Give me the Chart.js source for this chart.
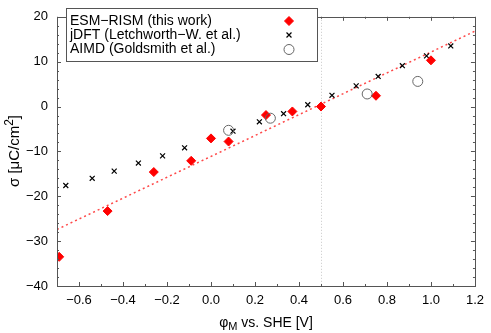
<!DOCTYPE html>
<html>
<head>
<meta charset="utf-8">
<script src="https://cdn.jsdelivr.net/npm/chart.js@4/dist/chart.umd.min.js"></script>
<style>
  html, body { margin: 0; padding: 0; background: #fff; }
</style>
</head>
<body>
<canvas id="sigmaChart" width="491" height="333"></canvas>
<script>
// ESM-RISM (this work)
const esmX = [-0.69, -0.47, -0.26, -0.09, 0.0, 0.08, 0.25, 0.37, 0.50, 0.75, 1.00];
const esmY = [-33.5, -23.3, -14.6, -12.1, -7.1, -7.8, -1.9, -1.1, 0.0, 2.4, 10.3];

// jDFT (Letchworth-W. et al.)
const jdftX = [-0.66, -0.54, -0.44, -0.33, -0.22, -0.12, 0.10, 0.22, 0.33, 0.44, 0.55, 0.66, 0.76, 0.87, 0.98, 1.09];
const jdftY = [-17.6, -16.0, -14.4, -12.6, -11.0, -9.2, -5.5, -3.4, -1.6, 0.4, 2.5, 4.6, 6.7, 9.1, 11.3, 13.5];

// AIMD (Goldsmith et al.)
const aimdX = [0.08, 0.27, 0.71, 0.94];
const aimdY = [-5.3, -2.6, 2.8, 5.6];

// linear fit through ESM-RISM points
const fitX = [-0.7, 1.2];
const fitY = [-27.4, 16.8];

const seriesLabels = ["ESM\u2212RISM (this work)", "jDFT (Letchworth\u2212W. et al.)", "AIMD (Goldsmith et al.)"];
const refLineX = 0.5;

const FONT = "'Liberation Sans', Arial, Helvetica, sans-serif";

function toPoints(xs, ys) {
    return xs.map((x, i) => ({ x: x, y: ys[i] }));
}

function fmtX(v) {
    const r = Math.round(v * 10);
    if (r % 2 !== 0) return "";
    return (r / 10).toFixed(1).replace("-", "\u2212");
}

function fmtY(v) {
    const r = Math.round(v);
    if (r % 10 !== 0) return "";
    return String(r).replace("-", "\u2212");
}

// frame, inside ticks, dotted reference line
const framePlugin = {
    id: "frame",
    beforeDatasetsDraw(chart) {
        const ctx = chart.ctx, a = chart.chartArea;
        const px = chart.scales.x.getPixelForValue(refLineX);
        ctx.save();
        ctx.strokeStyle = "#c8c8c8";
        ctx.lineWidth = 1;
        ctx.setLineDash([1, 2]);
        ctx.beginPath();
        ctx.moveTo(Math.round(px) + 0.5, a.top);
        ctx.lineTo(Math.round(px) + 0.5, a.bottom);
        ctx.stroke();
        ctx.restore();
    },
    afterDraw(chart) {
        const ctx = chart.ctx, a = chart.chartArea;
        const xs = chart.scales.x, ys = chart.scales.y;
        ctx.save();
        ctx.strokeStyle = "#555";
        ctx.lineWidth = 1;
        ctx.beginPath();
        xs.ticks.forEach(t => {
            const p = Math.round(xs.getPixelForValue(t.value)) + 0.5;
            const len = fmtX(t.value) ? 4 : 2;
            ctx.moveTo(p, a.bottom); ctx.lineTo(p, a.bottom - len);
            ctx.moveTo(p, a.top); ctx.lineTo(p, a.top + len);
        });
        ys.ticks.forEach(t => {
            const p = Math.round(ys.getPixelForValue(t.value)) + 0.5;
            const len = fmtY(t.value) ? 4 : 2;
            ctx.moveTo(a.left, p); ctx.lineTo(a.left + len, p);
            ctx.moveTo(a.right, p); ctx.lineTo(a.right - len, p);
        });
        ctx.stroke();
        ctx.strokeRect(Math.round(a.left) + 0.5, Math.round(a.top) + 0.5,
            Math.round(a.right - a.left), Math.round(a.bottom - a.top));
        ctx.restore();
    }
};

// gnuplot style key: text left, sample right
const keyPlugin = {
    id: "gnuKey",
    afterDraw(chart) {
        const ctx = chart.ctx;
        const box = { x: 66, y: 8, w: 251, h: 53 };
        ctx.save();
        ctx.fillStyle = "#fff";
        ctx.fillRect(box.x, box.y, box.w, box.h);
        ctx.strokeStyle = "#555";
        ctx.lineWidth = 1;
        ctx.strokeRect(box.x + 0.5, box.y + 0.5, box.w, box.h);
        ctx.font = "14px " + FONT;
        ctx.textBaseline = "middle";
        ctx.textAlign = "left";
        const rows = [21, 35, 49.5];
        for (let i = 0; i < 3; i++) {
            const ds = chart.data.datasets[i];
            ctx.fillStyle = "#000";
            ctx.fillText(seriesLabels[i], box.x + 4, rows[i]);
            ctx.fillStyle = ds.backgroundColor;
            ctx.strokeStyle = ds.borderColor;
            ctx.lineWidth = ds.borderWidth;
            Chart.helpers.drawPoint(ctx, {
                pointStyle: ds.pointStyle, radius: ds.pointRadius,
                rotation: 0, borderWidth: ds.borderWidth
            }, 289, rows[i]);
        }
        ctx.restore();
    }
};

// axis titles with sub/superscripts
const titlePlugin = {
    id: "axisTitles",
    afterDraw(chart) {
        const ctx = chart.ctx, a = chart.chartArea;
        ctx.save();
        ctx.fillStyle = "#000";
        ctx.textBaseline = "alphabetic";
        ctx.textAlign = "left";
        // x title: phi_M vs. SHE [V]
        const big = "14px " + FONT, small = "11px " + FONT;
        ctx.font = big; const w1 = ctx.measureText("\u03c6").width;
        ctx.font = small; const w2 = ctx.measureText("M").width;
        ctx.font = big; const w3 = ctx.measureText(" vs. SHE [V]").width;
        let x0 = (a.left + a.right) / 2 - (w1 + w2 + w3) / 2;
        const yb = 327;
        ctx.font = big; ctx.fillText("\u03c6", x0, yb);
        ctx.font = small; ctx.fillText("M", x0 + w1, yb + 3);
        ctx.font = big; ctx.fillText(" vs. SHE [V]", x0 + w1 + w2, yb);
        // y title: sigma [uC/cm^2]
        const yBig = "15px " + FONT, ySmall = "12px " + FONT;
        ctx.font = yBig; const v1 = ctx.measureText("\u03c3 [\u03bcC/cm").width;
        ctx.font = ySmall; const v2 = ctx.measureText("2").width;
        ctx.font = yBig; const v3 = ctx.measureText("]").width;
        ctx.translate(19, 151);
        ctx.rotate(-Math.PI / 2);
        let s0 = -(v1 + v2 + v3) / 2;
        ctx.font = yBig; ctx.fillText("\u03c3 [\u03bcC/cm", s0, 0);
        ctx.font = ySmall; ctx.fillText("2", s0 + v1, -6);
        ctx.font = yBig; ctx.fillText("]", s0 + v1 + v2, 0);
        ctx.restore();
    }
};

const ctx = document.getElementById("sigmaChart").getContext("2d");
new Chart(ctx, {
    type: "scatter",
    data: {
        datasets: [{
            label: seriesLabels[0],
            data: toPoints(esmX, esmY),
            pointStyle: "rectRot",
            pointRadius: 4.5,
            backgroundColor: "#ff0000",
            borderColor: "#ff0000",
            borderWidth: 1,
            order: 1
        }, {
            label: seriesLabels[1],
            data: toPoints(jdftX, jdftY),
            pointStyle: "crossRot",
            pointRadius: 3.5,
            backgroundColor: "#000",
            borderColor: "#000",
            borderWidth: 1.2,
            order: 2
        }, {
            label: seriesLabels[2],
            data: toPoints(aimdX, aimdY),
            pointStyle: "circle",
            pointRadius: 5,
            backgroundColor: "rgba(255,255,255,0)",
            borderColor: "#666",
            borderWidth: 1,
            order: 0
        }, {
            label: "fit",
            data: toPoints(fitX, fitY),
            showLine: true,
            pointRadius: 0,
            borderColor: "rgba(255,40,40,0.85)",
            borderWidth: 1.5,
            borderDash: [2, 3],
            order: 5
        }]
    },
    options: {
        responsive: false,
        devicePixelRatio: 1,
        animation: false,
        events: [],
        layout: { padding: { left: 0, top: 6, right: 9, bottom: 0 } },
        plugins: { legend: { display: false }, tooltip: { enabled: false } },
        scales: {
            x: {
                type: "linear",
                min: -0.7,
                max: 1.2,
                grid: { display: false, drawTicks: false },
                border: { display: false },
                ticks: {
                    stepSize: 0.1, autoSkip: false, maxRotation: 0, padding: 7,
                    color: "#000", font: { family: FONT, size: 13 },
                    callback: v => fmtX(v)
                },
                afterFit: s => { s.height = 47; }
            },
            y: {
                type: "linear",
                min: -40,
                max: 20,
                grid: { display: false, drawTicks: false },
                border: { display: false },
                ticks: {
                    stepSize: 2, autoSkip: false, padding: 9,
                    color: "#000", font: { family: FONT, size: 13 },
                    callback: v => fmtY(v)
                },
                afterFit: s => { s.width = 57; }
            }
        }
    },
    plugins: [framePlugin, keyPlugin, titlePlugin]
});
</script>
</body>
</html>
